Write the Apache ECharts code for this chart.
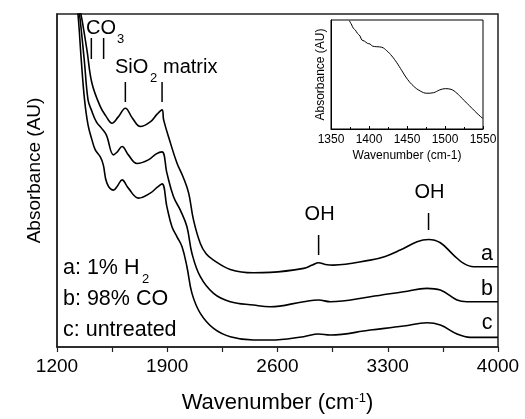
<!DOCTYPE html>
<html><head><meta charset="utf-8">
<script src="https://cdn.jsdelivr.net/npm/echarts@6/dist/echarts.min.js"></script>
<style>html,body{margin:0;padding:0;background:#fff}#c{width:525px;height:419px}</style>
</head><body><div id="c"></div>
<script>
// Main spectra (wavenumber, absorbance in arbitrary units)
const waveA = [1335, 1352, 1359, 1390, 1422, 1475, 1510, 1549, 1589, 1634, 1678, 1729, 1792, 1837, 1867, 1877, 1920, 1962, 2004, 2036, 2067, 2110, 2148, 2194, 2300, 2448, 2554, 2766, 2821, 2861, 2903, 2956, 3189, 3284, 3379, 3486, 3559, 3634, 3718, 3782, 3845, 4000];
const absA  = [106, 100, 98.2, 89.2, 79.2, 72.2, 69.4, 67.2, 69.1, 71.7, 68.8, 66.2, 67.6, 70.0, 71.2, 68.2, 61.3, 55.2, 50.7, 46.2, 38.1, 31.1, 27.9, 26.1, 23.3, 22.3, 22.4, 23.6, 24.6, 25.3, 24.8, 24.6, 26.1, 27.2, 29.1, 31.6, 32.3, 31.3, 27.6, 25.1, 24.1, 24.1];
const waveB = [1320, 1343, 1373, 1397, 1418, 1450, 1481, 1513, 1559, 1583, 1613, 1653, 1708, 1780, 1830, 1867, 1898, 1940, 1983, 2025, 2057, 2110, 2194, 2300, 2448, 2554, 2766, 2861, 2935, 3189, 3401, 3549, 3634, 3740, 3803, 4000];
const absB  = [108, 100, 86.2, 74.2, 71.2, 67.6, 65.8, 63.7, 57.7, 58.6, 60.2, 57.7, 55.1, 56.2, 58.0, 58.6, 52.2, 45.1, 41.1, 36.1, 28.1, 21.1, 16.1, 13.6, 12.6, 12.1, 13.6, 14.1, 13.6, 15.1, 16.6, 17.6, 17.1, 14.1, 13.6, 13.6];
const waveC = [1315, 1333, 1354, 1375, 1397, 1422, 1443, 1475, 1494, 1517, 1559, 1583, 1613, 1653, 1718, 1792, 1837, 1867, 1898, 1930, 1962, 1994, 2025, 2057, 2110, 2194, 2300, 2448, 2554, 2766, 2861, 2935, 3189, 3401, 3549, 3634, 3740, 3824, 4000];
const absC  = [106, 100, 86.2, 74.2, 66.7, 62.2, 59.2, 57.1, 54.7, 49.2, 47.1, 48.3, 50.2, 47.7, 44.7, 46.2, 48.0, 49.0, 42.1, 36.1, 33.1, 30.1, 24.1, 16.1, 10.1, 5.6, 3.1, 2.1, 2.1, 3.1, 3.9, 3.6, 5.1, 6.3, 7.3, 6.6, 3.9, 2.9, 2.9];
// Inset spectrum
const waveInset = [1374.1, 1377.3, 1379.4, 1382.0, 1384.7, 1388.2, 1390.5, 1393.9, 1397.9, 1401.4, 1404.4, 1410.3, 1416.8, 1423.4, 1430.0, 1436.6, 1443.2, 1450.6, 1458.5, 1467.3, 1476.2, 1484.9, 1492.8, 1500.3, 1507.8, 1515.7, 1522.3, 1528.9, 1535.5, 1542.1, 1549.5];
const absInset  = [99.4, 95.4, 92.4, 90.8, 87.8, 85.3, 81.7, 80.7, 78.6, 78.0, 76.1, 75.5, 75.0, 71.8, 67.0, 60.8, 53.5, 45.6, 39.4, 34.9, 32.8, 33.3, 35.8, 37.0, 36.4, 32.8, 28.2, 23.6, 19.0, 14.4, 9.8];
// Axis ticks
const mainTicks = [1200, 1900, 2600, 3300, 4000];
const insetTicks = [1350, 1400, 1450, 1500, 1550];
// Labels
const sampleLabels = ['a', 'b', 'c'];
const legendLines = ['a: 1% H', 'b: 98% CO', 'c: untreated'];

const FF = '"Liberation Sans", Arial, Helvetica, sans-serif';
const zip = (w, a) => w.map((x, i) => [x, a[i]]);
const plain = v => String(v);
const chart = echarts.init(document.getElementById('c'), null, {renderer: 'canvas'});

const lineSeries = (data, xi, yi, width) => ({
  type: 'line', data, xAxisIndex: xi, yAxisIndex: yi, showSymbol: false, symbol: 'none',
  smooth: 0.4, clip: true, silent: true,
  lineStyle: {color: '#000', width: width}
});

chart.setOption({
  animation: false,
  backgroundColor: '#fff',
  grid: [
    {left: 57, right: 27, top: 14, bottom: 72, show: true, borderColor: '#222', borderWidth: 1.5, containLabel: false},
    {left: 331, top: 20, width: 152, height: 109, show: true, borderColor: '#000', borderWidth: 1, backgroundColor: '#fff'}
  ],
  xAxis: [
    {type: 'value', gridIndex: 0, min: mainTicks[0], max: mainTicks[mainTicks.length - 1], interval: mainTicks[1] - mainTicks[0],
     axisLine: {show: true, lineStyle: {color: '#222', width: 1.5}},
     axisTick: {show: true, inside: false, length: 5, lineStyle: {color: '#222', width: 1.2}},
     minorTick: {show: true, splitNumber: 2, length: 5, lineStyle: {color: '#222', width: 1.2}},
     splitLine: {show: false},
     axisLabel: {fontFamily: FF, fontSize: 19, color: '#000', margin: 10, formatter: plain},
     name: 'Wavenumber (cm{sup|-1})', nameLocation: 'middle', nameGap: 45,
     nameTextStyle: {fontFamily: FF, fontSize: 22, color: '#000',
       rich: {sup: {fontFamily: FF, fontSize: 13, color: '#000', verticalAlign: 'top', lineHeight: 13}}}},
    {type: 'value', gridIndex: 1, min: insetTicks[0], max: insetTicks[insetTicks.length - 1], interval: insetTicks[1] - insetTicks[0],
     axisLine: {show: true, lineStyle: {color: '#000', width: 1}},
     axisTick: {show: true, inside: true, length: 3, lineStyle: {color: '#000', width: 1}},
     minorTick: {show: true, splitNumber: 2, length: 2, lineStyle: {color: '#000', width: 1}},
     splitLine: {show: false},
     axisLabel: {fontFamily: FF, fontSize: 12, color: '#000', margin: 5, formatter: plain},
     name: 'Wavenumber (cm-1)', nameLocation: 'middle', nameGap: 21,
     nameTextStyle: {fontFamily: FF, fontSize: 12, color: '#000'}}
  ],
  yAxis: [
    {type: 'value', gridIndex: 0, min: 0, max: 100,
     axisLine: {show: true, lineStyle: {color: '#222', width: 1.5}},
     axisTick: {show: false}, axisLabel: {show: false}, splitLine: {show: false},
     name: 'Absorbance (AU)', nameLocation: 'middle', nameGap: 13,
     nameTextStyle: {fontFamily: FF, fontSize: 19, color: '#000', padding: [0, 0, 0, 20]}},
    {type: 'value', gridIndex: 1, min: 0, max: 100,
     axisLine: {show: true, lineStyle: {color: '#000', width: 1}},
     axisTick: {show: false}, axisLabel: {show: false}, splitLine: {show: false},
     name: 'Absorbance (AU)', nameLocation: 'middle', nameGap: 4,
     nameTextStyle: {fontFamily: FF, fontSize: 12, color: '#000'}}
  ],
  series: [
    lineSeries(zip(waveA, absA), 0, 0, 1.6),
    lineSeries(zip(waveB, absB), 0, 0, 1.6),
    lineSeries(zip(waveC, absC), 0, 0, 1.6),
    lineSeries(zip(waveInset, absInset), 1, 1, 1)
  ]
});

// Annotations
const px = w => chart.convertToPixel({xAxisIndex: 0}, w);
const txt = (text, x, y, size, align) => ({type: 'text', x, y, silent: true,
  style: {text, fill: '#000', fontFamily: FF, fontSize: size, align: align || 'left', verticalAlign: 'middle',
          textAlign: align || 'left', textVerticalAlign: 'middle'}});
const vline = (x, y1, y2) => ({type: 'line', silent: true, shape: {x1: x, y1, x2: x, y2}, style: {stroke: '#000', lineWidth: 1.5}});

const peakCO3 = [1418, 1496], peakSiO2 = [1634, 1867], peakOH1 = 2861, peakOH2 = 3559;
const g = [
  txt('CO', 86, 28, 20), txt('3', 117, 39, 13),
  vline(px(peakCO3[0]), 38, 59), vline(px(peakCO3[1]), 38, 59),
  txt('SiO', 115, 67, 20), txt('2', 150, 78, 13), txt('matrix', 163, 67, 20),
  vline(px(peakSiO2[0]), 82, 102), vline(px(peakSiO2[1]), 82, 102),
  txt('OH', px(peakOH1) + 1, 214, 20, 'center'), vline(px(peakOH1), 235, 255),
  txt('OH', px(peakOH2) + 1, 192, 20, 'center'), vline(px(peakOH2), 213, 230),
  txt(legendLines[0], 63, 268, 21.5), txt('2', 142, 279, 13),
  txt(legendLines[1], 63, 299, 21.5),
  txt(legendLines[2], 63, 330, 21.5),
  txt(sampleLabels[0], 487, 254, 21.5, 'center'),
  txt(sampleLabels[1], 487, 289, 21.5, 'center'),
  txt(sampleLabels[2], 487, 323, 21.5, 'center')
];
chart.setOption({graphic: {elements: g}});
</script></body></html>
